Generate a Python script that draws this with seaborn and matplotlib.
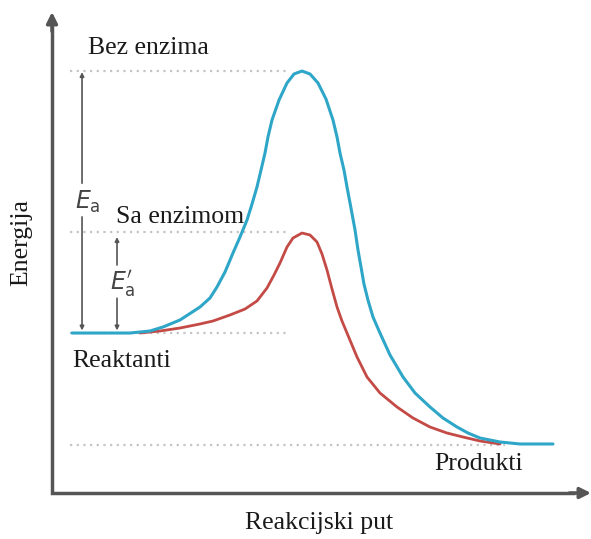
import numpy as np
import pandas as pd
import matplotlib
matplotlib.use("Agg")
import matplotlib.pyplot as plt
import seaborn as sns

# ---- data (reaction coordinate 0..100, energy 0..100) ----
uncat_x = [3.71, 14.47, 18.18, 20.59, 23.75, 27.46, 29.31, 30.61, 32.10, 33.58, 34.88, 36.18,
           37.11, 38.03, 38.78, 39.52, 40.07, 40.82, 42.12, 43.60, 44.90, 46.38, 47.87, 49.35,
           50.83, 52.13, 52.88, 53.43, 54.17, 54.73, 55.47, 56.22, 56.77, 57.33, 57.88, 58.63,
           59.55, 60.85, 62.71, 65.12, 67.35, 70.13, 72.54, 75.14, 77.18, 79.41, 83.12, 86.83,
           92.95]
uncat_E = [33.26, 33.26, 33.68, 34.51, 35.97, 38.67, 40.54, 42.83, 45.95, 49.90, 53.22, 56.76,
           60.08, 63.62, 67.15, 70.69, 74.01, 77.55, 81.70, 85.24, 87.11, 87.73, 87.11, 85.24,
           81.91, 77.55, 74.01, 70.69, 67.15, 63.62, 59.25, 54.68, 50.52, 46.99, 43.45, 40.08,
           36.59, 33.26, 28.69, 24.12, 20.79, 17.88, 15.59, 13.72, 12.47, 11.43, 10.60, 10.19,
           10.19]
cat_x = [16.33, 20.04, 23.75, 27.46, 29.87, 33.02, 35.81, 38.03, 39.89, 41.19, 42.30, 43.60,
         44.71, 46.38, 47.87, 49.17, 50.09, 51.02, 51.95, 52.88, 53.80, 54.73, 56.59, 58.44,
         60.85, 64.01, 66.98, 70.13, 73.28, 76.25, 79.41, 83.12]
cat_E = [33.26, 33.68, 34.30, 35.14, 35.76, 37.01, 38.25, 39.92, 42.62, 45.32, 47.82, 51.14,
         53.01, 54.05, 53.64, 52.18, 49.69, 46.36, 42.41, 38.67, 35.76, 33.26, 28.27, 24.12,
         20.79, 17.88, 15.59, 13.72, 12.47, 11.64, 10.81, 10.19]

levels = {"ts_uncat": 87.7, "ts_cat": 54.3, "reactants": 33.3, "products": 10.0}
labels = {"uncat": "Bez enzima", "cat": "Sa enzimom", "react": "Reaktanti", "prod": "Produkti",
          "x": "Reakcijski put", "y": "Energija"}

df_u = pd.DataFrame({"x": uncat_x, "E": uncat_E})
df_c = pd.DataFrame({"x": cat_x, "E": cat_E})

sns.set_theme(style="white")
plt.rcParams["font.family"] = ["Liberation Serif", "DejaVu Serif"]

W, H = 591, 539
fig = plt.figure(figsize=(W / 100, H / 100), dpi=100)
x0, y0, x1, y1 = 52, 493, 591, 12
ax = fig.add_axes([x0 / W, (H - y0) / H, (x1 - x0) / W, (y0 - y1) / H])
ax.set_xlim(0, 100)
ax.set_ylim(0, 100)
ax.axis("off")

grey_dot = dict(color="#c4c4c4", lw=1.6, ls=(0, (1, 2)), zorder=1)
ax.plot([3.3, 44.2], [levels["ts_uncat"]] * 2, **grey_dot)
ax.plot([3.3, 43.6], [levels["ts_cat"]] * 2, **grey_dot)
ax.plot([3.3, 43.9], [levels["reactants"]] * 2, **grey_dot)
ax.plot([3.3, 84.0], [levels["products"]] * 2, **grey_dot)

sns.lineplot(data=df_c, x="x", y="E", ax=ax, color="#c44a46", lw=2.0, sort=False, zorder=3)
sns.lineplot(data=df_u, x="x", y="E", ax=ax, color="#2ea6c8", lw=2.2, sort=False, zorder=4)

# axes arrows
axc = "#555555"
ax.plot([0, 0, 97], [97, 0, 0], color=axc, lw=2.5, solid_joinstyle="miter",
        solid_capstyle="butt", clip_on=False, zorder=2)
ax.annotate("", xy=(0, 100), xytext=(0, 96), xycoords="data",
            arrowprops=dict(arrowstyle="-|>", color=axc, lw=2.5, mutation_scale=16,
                            shrinkA=0, shrinkB=0), annotation_clip=False)
ax.annotate("", xy=(100, 0), xytext=(96, 0), xycoords="data",
            arrowprops=dict(arrowstyle="-|>", color=axc, lw=2.5, mutation_scale=16,
                            shrinkA=0, shrinkB=0), annotation_clip=False)

# activation energy arrows
ac = "#555555"
ap = dict(arrowstyle="-|>", color=ac, lw=1.2, mutation_scale=6, shrinkA=0, shrinkB=0)
xa = 5.57
ax.annotate("", xy=(xa, 87.5), xytext=(xa, 64.4), arrowprops=ap)
ax.annotate("", xy=(xa, 33.8), xytext=(xa, 57.4), arrowprops=ap)
xb = 12.06
ax.annotate("", xy=(xb, 53.2), xytext=(xb, 47.4), arrowprops=ap)
ax.annotate("", xy=(xb, 33.8), xytext=(xb, 40.5), arrowprops=ap)

ax.text(6.6, 60.6, r"$\mathit{E}_{\mathrm{a}}$", fontsize=17, color="#444444",
        ha="center", va="center", family=["Liberation Sans", "DejaVu Sans"],
        math_fontfamily="dejavusans")
ax.text(13.2, 43.6, r"$\mathit{E}_{\mathrm{a}}^{\prime}$", fontsize=17, color="#444444",
        ha="center", va="center", family=["Liberation Sans", "DejaVu Sans"],
        math_fontfamily="dejavusans")

fs = 18.5
ax.text(17.8, 92.6, labels["uncat"], fontsize=fs, ha="center", va="center", color="#1a1a1a")
ax.text(23.7, 57.4, labels["cat"], fontsize=fs, ha="center", va="center", color="#1a1a1a")
ax.text(13.0, 27.5, labels["react"], fontsize=fs, ha="center", va="center", color="#1a1a1a")
ax.text(79.2, 6.0, labels["prod"], fontsize=fs, ha="center", va="center", color="#1a1a1a")

fig.text(319 / W, 1 - 523 / H, labels["x"], fontsize=fs, ha="center", va="center", color="#1a1a1a")
fig.text(21 / W, 1 - 243 / H, labels["y"], fontsize=fs, ha="center", va="center",
         rotation=90, color="#1a1a1a")

fig.savefig("out.png", dpi=100)
